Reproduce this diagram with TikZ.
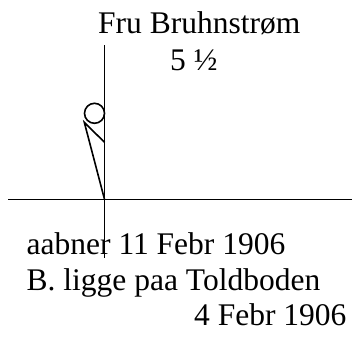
\documentclass[tikz,border=0pt]{standalone}
\usepackage{fontspec}
\setmainfont{Liberation Serif}
\begin{document}
\begin{tikzpicture}[x=1pt,y=-1pt,
  txt/.style={inner sep=0pt,anchor=base west,font=\fontsize{31.5}{36}\selectfont},
  ln/.style={line width=1.6pt}]
\useasboundingbox (0,0) rectangle (352,349);
% text
\node[txt] (name) at (98,33.5) {Fru Bruhnstrøm};
\node[txt] (num) at (170,70.7) {5 ½};
\node[txt] (l1) at (26.5,254.3) {aabner 11 Febr 1906};
\node[txt] (l2) at (26.5,290) {B. ligge paa Toldboden};
\node[txt] (l3) at (194,325.5) {4 Febr 1906};
% lines
\coordinate (vtop) at (104.5,45);
\coordinate (vbot) at (104.5,258);
\coordinate (hl) at (8,199.3);
\coordinate (hr) at (352,199.3);
\coordinate (foot) at (104.5,199.3);
\coordinate (tip) at (84.3,122.3);
\coordinate (mid) at (104.5,142.3);
\draw[ln] (vtop) -- (vbot);
\draw[ln] (hl) -- (hr);
\node[ln,draw,circle,minimum size=20pt,inner sep=0pt] (head) at (94.5,113.3) {};
\draw[ln,line join=miter] (mid) -- (tip) -- (foot);
\end{tikzpicture}
\end{document}
